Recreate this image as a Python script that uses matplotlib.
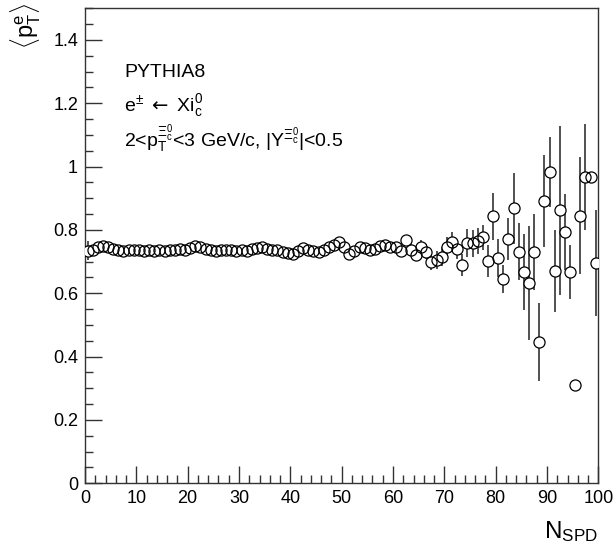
import numpy as np
import matplotlib
matplotlib.use("Agg")
import matplotlib.pyplot as plt
from matplotlib.ticker import MultipleLocator

plt.rcParams['font.family'] = ['Liberation Sans', 'DejaVu Sans']
plt.rcParams['mathtext.fontset'] = 'custom'
plt.rcParams['mathtext.rm'] = 'Liberation Sans'
plt.rcParams['mathtext.it'] = 'Liberation Sans'
plt.rcParams['mathtext.bf'] = 'Liberation Sans:bold'
plt.rcParams['mathtext.sf'] = 'DejaVu Sans'

# ---- data ----
n_spd = np.arange(100) + 0.5

mean_pt = [
    0.735, 0.737, 0.746, 0.748, 0.746, 0.741, 0.737, 0.735, 0.737, 0.736,
    0.738, 0.735, 0.737, 0.734, 0.737, 0.735, 0.738, 0.736, 0.740, 0.738,
    0.742, 0.750, 0.746, 0.740, 0.737, 0.735, 0.738, 0.736, 0.737, 0.735,
    0.738, 0.735, 0.740, 0.744, 0.747, 0.740, 0.736, 0.737, 0.731, 0.728,
    0.724, 0.735, 0.742, 0.738, 0.735, 0.730, 0.738, 0.746, 0.752, 0.762,
    0.745, 0.724, 0.735, 0.746, 0.742, 0.737, 0.741, 0.748, 0.752, 0.745,
    0.746, 0.735, 0.768, 0.738, 0.722, 0.745, 0.731, 0.700, 0.705, 0.716,
    0.747, 0.763, 0.739, 0.689, 0.758, 0.758, 0.765, 0.777, 0.702, 0.843,
    0.710, 0.645, 0.772, 0.868, 0.731, 0.668, 0.632, 0.731, 0.446, 0.891,
    0.984, 0.671, 0.862, 0.794, 0.668, 0.310, 0.845, 0.968, 0.968, 0.695,
]

mean_pt_err = [
    0.030, 0.006, 0.005, 0.005, 0.005, 0.005, 0.005, 0.005, 0.005, 0.005,
    0.005, 0.005, 0.005, 0.005, 0.005, 0.005, 0.005, 0.005, 0.005, 0.005,
    0.005, 0.005, 0.005, 0.005, 0.005, 0.005, 0.005, 0.005, 0.005, 0.005,
    0.006, 0.006, 0.006, 0.006, 0.006, 0.006, 0.006, 0.006, 0.006, 0.006,
    0.007, 0.007, 0.007, 0.007, 0.007, 0.008, 0.008, 0.008, 0.008, 0.009,
    0.009, 0.010, 0.010, 0.011, 0.011, 0.012, 0.012, 0.013, 0.013, 0.014,
    0.015, 0.016, 0.017, 0.018, 0.020, 0.022, 0.024, 0.027, 0.029, 0.030,
    0.030, 0.031, 0.030, 0.035, 0.044, 0.042, 0.040, 0.040, 0.050, 0.075,
    0.060, 0.043, 0.067, 0.113, 0.090, 0.120, 0.180, 0.120, 0.123, 0.145,
    0.110, 0.130, 0.267, 0.120, 0.085, 0.000, 0.185, 0.168, 0.000, 0.167,
]

x_ticks = [0, 10, 20, 30, 40, 50, 60, 70, 80, 90, 100]
y_ticks = [0, 0.2, 0.4, 0.6, 0.8, 1.0, 1.2, 1.4]
y_tick_labels = ['0', '0.2', '0.4', '0.6', '0.8', '1', '1.2', '1.4']

# ---- figure ----
W, H = 614, 544
fig = plt.figure(figsize=(W / 100, H / 100), dpi=100)
left_px, right_px, top_px, bottom_px = 85, 598.3, 8.3, 483.3
ax = fig.add_axes([left_px / W, 1 - bottom_px / H,
                   (right_px - left_px) / W, (bottom_px - top_px) / H])

ax.errorbar(n_spd, mean_pt, yerr=mean_pt_err, fmt='none',
            ecolor='#222222', elinewidth=1.1, capsize=0, zorder=2)
ax.plot(n_spd, mean_pt, 'o', ms=8, mfc='white', mec='white', mew=0, zorder=3)
ax.plot(n_spd, mean_pt, 'o', ms=8, mfc='none', mec='black', mew=0.9, zorder=4)

ax.set_xlim(0, 100)
ax.set_ylim(0, 1.5)
ax.set_xticks(x_ticks)
ax.set_yticks(y_ticks)
ax.set_yticklabels(y_tick_labels)
ax.xaxis.set_minor_locator(MultipleLocator(2))
ax.yaxis.set_minor_locator(MultipleLocator(0.05))
ax.tick_params(which='both', direction='in', top=False, right=False,
               labelsize=13, color='#333333', width=1)
ax.tick_params(which='major', length=12)
ax.tick_params(which='minor', length=6)
ax.tick_params(axis='x', pad=5)
ax.tick_params(axis='y', pad=5)
for s in ax.spines.values():
    s.set_color('#333333')
    s.set_linewidth(1)

# axis titles
fig.text(9 / W, 1 - 3 / H, r'$\langle$p$_{T}^{e}\rangle$', rotation=90,
         ha='left', va='top', fontsize=17)
fig.text(right_px / W, 1 - 538 / H, r'N$_{\mathrm{SPD}}$', ha='right',
         va='baseline', fontsize=17.5)

# annotations
fig.text(124 / W, 1 - 77 / H, 'PYTHIA8', fontsize=14, va='baseline')
fig.text(124 / W, 1 - 111 / H, r'e$^{\pm}$ $\mathsf{\leftarrow}$ Xi$_{c}^{0}$',
         fontsize=14, va='baseline')
fig.text(124 / W, 1 - 147 / H,
         r'2<p$_{T}^{\Xi_{c}^{0}}$<3 GeV/c, |Y$^{\Xi_{c}^{0}}$|<0.5',
         fontsize=14, va='baseline')

fig.savefig('out.png', dpi=100)
